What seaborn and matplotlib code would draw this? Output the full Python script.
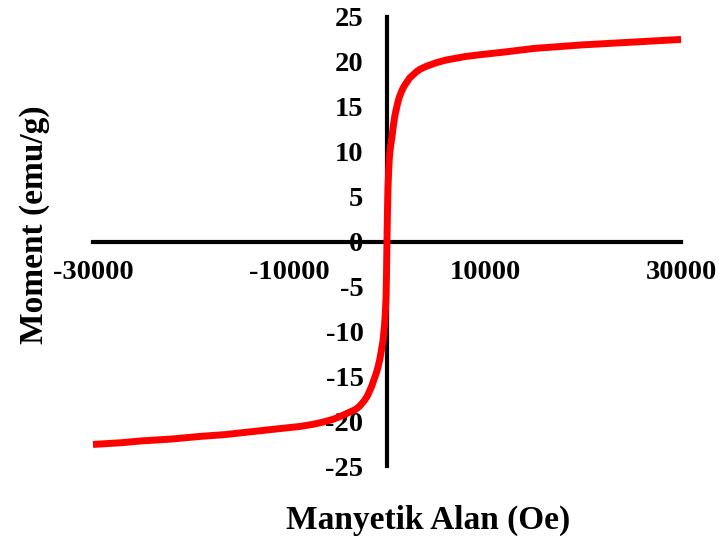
import matplotlib
matplotlib.use("Agg")
import matplotlib.pyplot as plt
import seaborn as sns
import pandas as pd

# Magnetization loop (M vs H) read at discrete field values
field_oe = [-30000, -27000, -25000, -22000, -19000, -16500, -14000, -11500,
            -8900, -7500, -6500, -5500, -4800, -3800, -3200,
            -2760, -2300, -2000, -1800, -1560, -1400, -1200, -1050, -900,
            -750, -600, -400, -250, -175, -100, -50, 0,
            50, 100, 175, 250, 350, 500, 650, 800, 1000, 1150, 1300, 1600,
            1800, 2000, 2300, 2700, 3000, 3400, 4000, 5000, 6000, 7000, 8000,
            9500, 12000, 15000, 17500, 20000, 25000, 30000]
moment_emu_g = [-22.6, -22.4, -22.2, -22.0, -21.7, -21.5, -21.2, -20.9,
                -20.6, -20.35, -20.1, -19.8, -19.5, -19.0, -18.7,
                -18.3, -17.7, -17.2, -16.7, -16.1, -15.6, -15.0, -14.5, -13.9,
                -13.2, -12.3, -11.0, -9.3, -8.0, -6.3, -3.5, 0.3,
                3.5, 6.0, 8.0, 9.5, 10.5, 11.6, 12.9, 14.0, 15.0, 15.7, 16.2, 17.0,
                17.4, 17.7, 18.2, 18.6, 18.9, 19.2, 19.5, 19.9, 20.2, 20.4, 20.6,
                20.8, 21.1, 21.5, 21.7, 21.9, 22.2, 22.5]

x_ticks = [-30000, -10000, 10000, 30000]
y_ticks = [-25, -20, -15, -10, -5, 0, 5, 10, 15, 20, 25]
x_label = "Manyetik Alan (Oe)"
y_label = "Moment (emu/g)"

sns.set_style("white")
plt.rcParams["font.family"] = ["Liberation Serif", "DejaVu Serif"]
plt.rcParams["font.weight"] = "bold"
plt.rcParams["text.color"] = "black"
plt.rcParams["xtick.color"] = "black"
plt.rcParams["ytick.color"] = "black"

df = pd.DataFrame({"H": field_oe, "M": moment_emu_g})

fig = plt.figure(figsize=(7.19, 5.45), dpi=100)
ax = fig.add_axes([93 / 719, 79 / 545, 588 / 719, 449 / 545])

sns.lineplot(data=df, x="H", y="M", ax=ax, color="#ff0000", linewidth=5,
             zorder=4, clip_on=False, sort=True)
for line in ax.get_lines():
    line.set_solid_joinstyle("round")
    line.set_solid_capstyle("butt")

ax.set_xlim(-30000, 30000)
ax.set_ylim(-25, 25)

for side in ("top", "right"):
    ax.spines[side].set_visible(False)
ax.spines["left"].set_position(("data", 0))
ax.spines["bottom"].set_position(("data", 0))
for side in ("left", "bottom"):
    ax.spines[side].set_linewidth(3)
    ax.spines[side].set_color("black")
    ax.spines[side].set_zorder(3)

ax.set_xticks(x_ticks)
ax.set_yticks(y_ticks)
ax.set_xticklabels([str(v) for v in x_ticks], fontsize=20.5,
                   fontweight="bold", color="black")
ax.set_yticklabels([str(v) for v in y_ticks], fontsize=20.5,
                   fontweight="bold", color="black")
ax.tick_params(axis="x", length=0, pad=13)
ax.tick_params(axis="y", length=0, pad=17)
ax.set_xlabel("")
ax.set_ylabel("")

fig.text(428 / 719, 1 - 520 / 545, x_label, ha="center", va="center",
         fontsize=24, fontweight="bold", color="black")
fig.text(35 / 719, 1 - 225 / 545, y_label, ha="center", va="center",
         rotation=90, fontsize=24, fontweight="bold", color="black")

fig.savefig("out.png", dpi=100)
